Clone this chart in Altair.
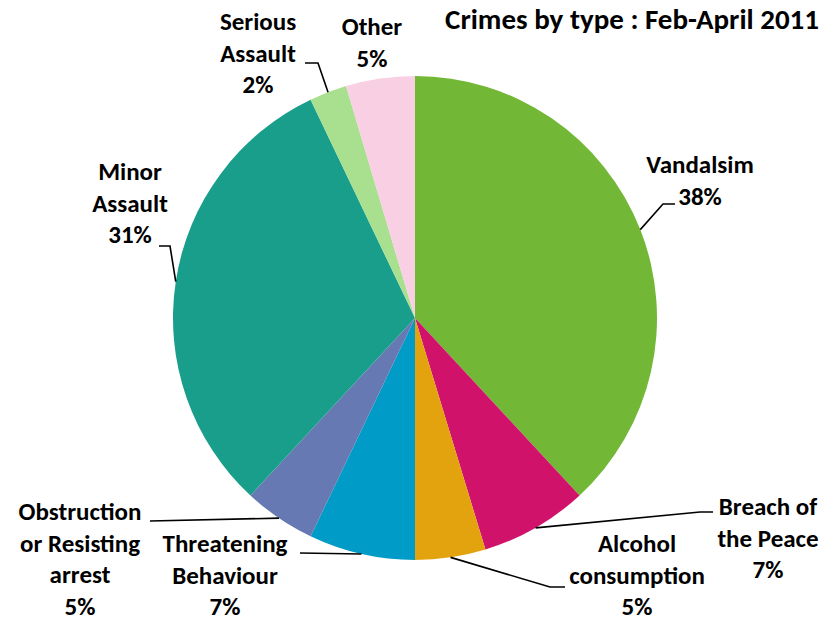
import altair as alt
import pandas as pd
import numpy as np

# ---------------- data ----------------
categories = ["Vandalsim", "Breach of the Peace", "Alcohol consumption",
              "Threatening Behaviour", "Obstruction or Resisting arrest",
              "Minor Assault", "Serious Assault", "Other"]
values = [38.1, 7.2, 4.7, 7.1, 4.8, 31.0, 2.5, 4.6]
pct_labels = ["38%", "7%", "5%", "7%", "5%", "31%", "2%", "5%"]
label_lines = ["Vandalsim", "Breach of\nthe Peace", "Alcohol\nconsumption",
               "Threatening\nBehaviour", "Obstruction\nor Resisting\narrest",
               "Minor\nAssault", "Serious\nAssault", "Other"]
colors = ["#72b836", "#d0126b", "#e3a30e", "#009bc6", "#6779b3",
          "#189e8b", "#a8e08f", "#f9cfe4"]
title_text = "Crimes by type : Feb-April 2011"

# ---------------- layout (chart pixel coords) ----------------
M = 8
CX, CY, R = 415 - M, 318 - M, 242
FONT = "Carlito, Calibri, Lato, sans-serif"

label_first = {  # centre x and first-line centre y of each label (page coords)
    "Vandalsim": (700, 165),
    "Breach of the Peace": (768, 507),
    "Alcohol consumption": (637, 544),
    "Threatening Behaviour": (225, 544),
    "Obstruction or Resisting arrest": (80, 512),
    "Minor Assault": (130, 172),
    "Serious Assault": (258, 22),
    "Other": (372, 27),
}
leader_tail = {  # bend points after the pie-edge start (page coords)
    "Vandalsim": [(663, 204), (675, 204)],
    "Breach of the Peace": [(700, 512), (713, 512)],
    "Alcohol consumption": [(550, 587), (565, 587)],
    "Threatening Behaviour": [(300, 553)],
    "Obstruction or Resisting arrest": [(150, 521)],
    "Minor Assault": [(170, 246), (159, 246)],
    "Serious Assault": [(318, 63), (305, 63)],
}

# ---------------- tables ----------------
df = pd.DataFrame({"category": categories, "value": values,
                   "order": list(range(len(categories)))})

vals = np.array(values)
mid_frac = (np.cumsum(vals) - vals / 2) / vals.sum()
mid_ang = mid_frac * 2 * np.pi

lab_rows = []
for cat, txt, pct in zip(categories, label_lines, pct_labels):
    x, y = label_first[cat]
    lab_rows.append({"x": x - M, "y": y - M, "text": txt + "\n" + pct})
lab_df = pd.DataFrame(lab_rows)

line_rows = []
for cat, a in zip(categories, mid_ang):
    if cat not in leader_tail:
        continue
    sx = CX + R * np.sin(a)
    sy = CY - R * np.cos(a)
    line_rows.append({"cat": cat, "i": 0, "x": sx, "y": sy})
    for k, (px, py) in enumerate(leader_tail[cat], start=1):
        line_rows.append({"cat": cat, "i": k, "x": px - M, "y": py - M})
line_df = pd.DataFrame(line_rows)

title_df = pd.DataFrame({"x": [819 - M], "y": [20 - M], "text": [title_text]})

# ---------------- chart ----------------
pie = alt.Chart(df).mark_arc(strokeWidth=0).encode(
    theta=alt.Theta("value:Q", stack=True),
    order=alt.Order("order:Q"),
    color=alt.Color("category:N", scale=alt.Scale(domain=categories, range=colors), legend=None),
    x=alt.value(CX),
    y=alt.value(CY),
    radius=alt.value(R),
)

leaders = alt.Chart(line_df).mark_line(color="black", strokeWidth=1.6).encode(
    x=alt.X("x:Q", scale=None),
    y=alt.Y("y:Q", scale=None),
    detail="cat:N",
    order="i:Q",
)

labels = alt.Chart(lab_df).mark_text(
    font=FONT, fontSize=25, fontWeight="bold", color="black",
    align="center", baseline="middle", lineBreak="\n", lineHeight=31.5,
).encode(
    x=alt.X("x:Q", scale=None),
    y=alt.Y("y:Q", scale=None),
    text="text:N",
)

title = alt.Chart(title_df).mark_text(
    font=FONT, fontSize=29, fontWeight="bold", color="black",
    align="right", baseline="middle",
).encode(
    x=alt.X("x:Q", scale=None),
    y=alt.Y("y:Q", scale=None),
    text="text:N",
)

chart = alt.layer(pie, leaders, labels, title).properties(
    width=840 - 2 * M, height=624 - 2 * M, padding=0,
    autosize=alt.AutoSizeParams(type="none"),
).configure_view(stroke=None)

chart.save("out.html", embed_options={"renderer": "svg", "actions": False})
